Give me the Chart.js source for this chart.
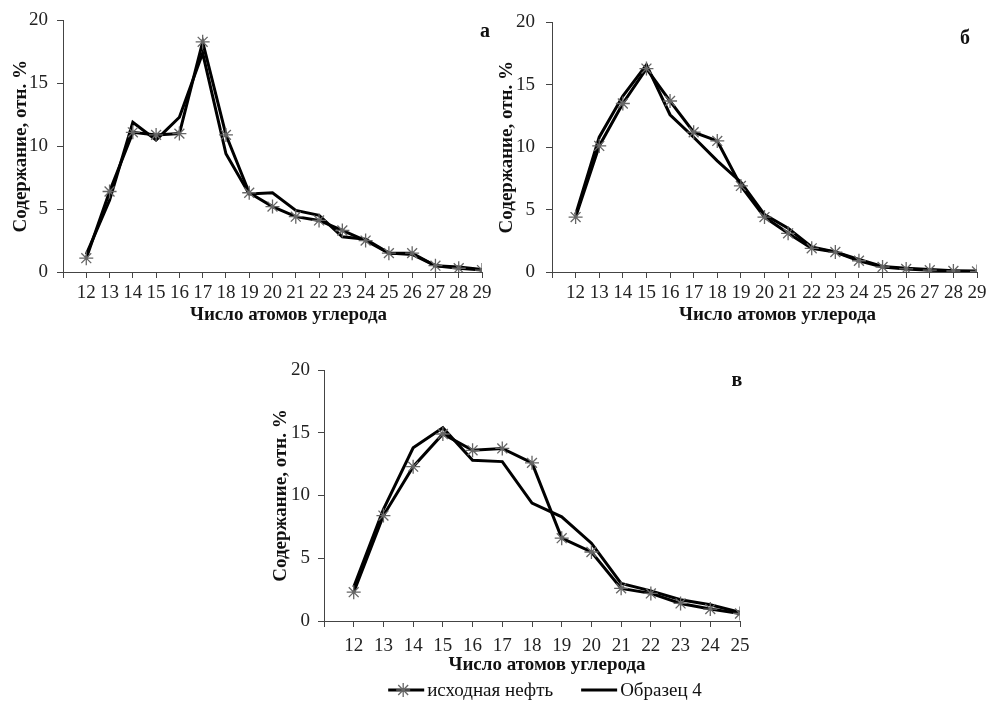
<!DOCTYPE html>
<html>
<head>
<meta charset="utf-8">
<script src="https://cdn.jsdelivr.net/npm/chart.js@4/dist/chart.umd.min.js"></script>
<style>
    body { margin: 0; background: #fff; width: 988px; height: 702px; position: relative; overflow: hidden; }
    canvas { position: absolute; }
</style>
</head>
<body>
<canvas id="chartA" width="520" height="330" style="left:0;top:0"></canvas>
<canvas id="chartB" width="520" height="330" style="left:490px;top:0"></canvas>
<canvas id="chartC" width="520" height="352" style="left:255px;top:350px"></canvas>
<script>
// Число атомов углерода
const carbonsAB = [12, 13, 14, 15, 16, 17, 18, 19, 20, 21, 22, 23, 24, 25, 26, 27, 28, 29];
const carbonsC = [12, 13, 14, 15, 16, 17, 18, 19, 20, 21, 22, 23, 24, 25];

// панель а
const crudeA = [1.1, 6.4, 11.1, 10.9, 11.0, 18.3, 10.9, 6.3, 5.2, 4.4, 4.1, 3.3, 2.5, 1.5, 1.5, 0.5, 0.3, 0.15];
const sampleA = [1.4, 5.7, 11.9, 10.5, 12.3, 17.4, 9.4, 6.2, 6.3, 4.9, 4.5, 2.8, 2.6, 1.5, 1.4, 0.5, 0.4, 0.2];

// панель б
const crudeB = [4.4, 10.1, 13.5, 16.3, 13.7, 11.2, 10.5, 6.9, 4.4, 3.1, 1.9, 1.6, 0.9, 0.4, 0.25, 0.15, 0.08, 0.05];
const sampleB = [4.6, 10.8, 14.1, 16.6, 12.6, 10.8, 8.9, 7.2, 4.6, 3.5, 2.0, 1.6, 1.0, 0.45, 0.3, 0.2, 0.1, 0.08];

// панель в
const crudeC = [2.3, 8.4, 12.3, 14.9, 13.6, 13.75, 12.6, 6.6, 5.5, 2.6, 2.2, 1.4, 0.95, 0.6];
const sampleC = [2.7, 8.9, 13.8, 15.4, 12.8, 12.7, 9.4, 8.3, 6.2, 3.0, 2.4, 1.7, 1.3, 0.7];

const yTicks = [0, 5, 10, 15, 20];
const seriesNames = ["исходная нефть", "Образец 4"];
const xTitle = "Число атомов углерода";
const yTitle = "Содержание, отн. %";

const serif = "'Liberation Serif', 'Times New Roman', serif";

function drawStar(ctx, x, y, r) {
    ctx.save();
    ctx.strokeStyle = "#666";
    ctx.lineWidth = 1.3;
    ctx.beginPath();
    for (let k = 0; k < 4; k++) {
        const a = k * Math.PI / 4;
        ctx.moveTo(x - r * Math.cos(a), y - r * Math.sin(a));
        ctx.lineTo(x + r * Math.cos(a), y + r * Math.sin(a));
    }
    ctx.stroke();
    ctx.restore();
}

// panel letter, x axis title and the legend row
const panelPlugin = {
    id: "panel",
    afterDraw(chart, args, opts) {
        const { ctx, chartArea } = chart;
        const cx = (chartArea.left + chartArea.right) / 2;
        ctx.save();
        ctx.fillStyle = "#111";
        ctx.textAlign = "center";
        ctx.textBaseline = "middle";
        ctx.font = "bold 20px " + serif;
        ctx.fillText(opts.letter, chartArea.right + opts.letterDx, chartArea.top + opts.letterDy);
        ctx.font = "bold 19px " + serif;
        ctx.fillText(xTitle, cx + opts.titleShift, chartArea.bottom + opts.titleDy);

        if (opts.legend) {
            ctx.font = "19px " + serif;
            ctx.textAlign = "left";
            const lineW = 36, gap = 28;
            const items = chart.data.datasets.map(ds => ({ ds, w: lineW + 3 + ctx.measureText(ds.label).width }));
            const total = items.reduce((s, it) => s + it.w, 0) + gap * (items.length - 1);
            let x = cx + opts.legendShift - total / 2;
            const y = chartArea.bottom + opts.legendDy;
            items.forEach(it => {
                ctx.strokeStyle = "#000";
                ctx.lineWidth = 3;
                ctx.beginPath();
                ctx.moveTo(x, y);
                ctx.lineTo(x + lineW, y);
                ctx.stroke();
                if (it.ds.pointRadius > 0) drawStar(ctx, x + 15, y, 7);
                ctx.fillStyle = "#111";
                ctx.fillText(it.ds.label, x + lineW + 3, y + 1);
                x += it.w + gap;
            });
        }
        ctx.restore();
    }
};

function makeChart(id, carbons, crude, sample, cfg) {
    const pts = vals => vals.map((v, i) => ({ x: carbons[i], y: v }));
    return new Chart(document.getElementById(id), {
        type: "line",
        data: {
            datasets: [{
                label: seriesNames[0],
                data: pts(crude),
                borderColor: "#000",
                borderWidth: 3,
                pointStyle: "star",
                pointRadius: 7,
                pointBorderColor: "#666",
                pointBorderWidth: 1.3,
                pointBackgroundColor: "rgba(0,0,0,0)",
            }, {
                label: seriesNames[1],
                data: pts(sample),
                borderColor: "#000",
                borderWidth: 3,
                pointRadius: 0,
            }],
        },
        options: {
            responsive: false,
            animation: false,
            layout: { padding: cfg.padding },
            plugins: {
                legend: { display: false },
                tooltip: { enabled: false },
                panel: cfg.panel,
            },
            scales: {
                x: {
                    type: "linear",
                    min: 11,
                    max: carbons[carbons.length - 1],
                    afterBuildTicks: s => { s.ticks = carbons.map(v => ({ value: v })); s.ticks.unshift({ value: 11 }); },
                    afterFit: s => { s.height = 58; },
                    ticks: {
                        autoSkip: false,
                        maxRotation: 0,
                        padding: cfg.xPad,
                        color: "#222",
                        font: { family: serif, size: 19 },
                        callback: v => (v === 11 ? "" : v),
                    },
                    grid: { drawOnChartArea: false, drawTicks: true, tickLength: 6, color: "#444" },
                    border: { color: "#444", width: 1 },
                },
                y: {
                    min: 0,
                    max: 20,
                    afterBuildTicks: s => { s.ticks = yTicks.map(v => ({ value: v })); },
                    afterFit: s => { s.width = cfg.yWidth; },
                    ticks: {
                        padding: cfg.yPad,
                        color: "#222",
                        font: { family: serif, size: 19 },
                    },
                    grid: { drawOnChartArea: false, drawTicks: true, tickLength: 6, color: "#444" },
                    border: { color: "#444", width: 1 },
                    title: {
                        display: true,
                        text: yTitle,
                        color: "#111",
                        font: { family: serif, size: 19, weight: "bold" },
                        padding: { top: cfg.yTitlePad, bottom: 0 },
                    },
                },
            },
        },
        plugins: [panelPlugin],
    });
}

makeChart("chartA", carbonsAB, crudeA, sampleA, {
    padding: { top: 20, right: 38, bottom: 0, left: 0 },
    yWidth: 63, yPad: 9, yTitlePad: 10, xPad: 4,
    panel: { letter: "а", letterDx: 3, letterDy: 11, titleShift: 16, titleDy: 43 },
});

makeChart("chartB", carbonsAB, crudeB, sampleB, {
    padding: { top: 21, right: 33, bottom: 0, left: 0 },
    yWidth: 62, yPad: 11, yTitlePad: 6, xPad: 4,
    panel: { letter: "б", letterDx: -12, letterDy: 16, titleShift: 13, titleDy: 43 },
});

makeChart("chartC", carbonsC, crudeC, sampleC, {
    padding: { top: 20, right: 35, bottom: 23, left: 0 },
    yWidth: 69, yPad: 8, yTitlePad: 15, xPad: 8,
    panel: { letter: "в", letterDx: -3, letterDy: 11, titleShift: 15, titleDy: 44, legend: true, legendShift: 13, legendDy: 69 },
});
</script>
</body>
</html>
